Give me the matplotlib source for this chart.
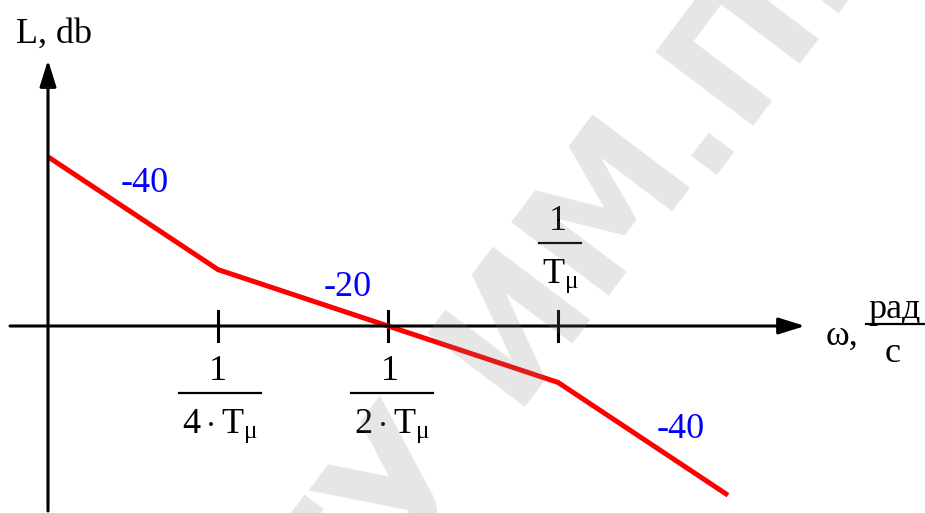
import numpy as np
import matplotlib
matplotlib.use('Agg')
import matplotlib.pyplot as plt

plt.rcParams['mathtext.fontset'] = 'custom'
plt.rcParams['mathtext.rm'] = 'Liberation Serif'
plt.rcParams['mathtext.it'] = 'Liberation Serif'
plt.rcParams['mathtext.bf'] = 'Liberation Serif:bold'
plt.rcParams['font.family'] = 'Liberation Serif'

# asymptotic LAFC, frequency in units of 1/T_mu
omega = [1/8, 1/4, 1/2, 1, 2]
L_db = [18, 6, 0, -6, -18]

corner_omega = [1/4, 1/2, 1]
corner_num = ['1', '1', '1']
corner_den = [r'$4\cdot\mathrm{T}_{\mu}$', r'$2\cdot\mathrm{T}_{\mu}$', r'$\mathrm{T}_{\mu}$']
slope_labels = ['-40', '-20', '-40']

W, H = 925, 513
fig = plt.figure(figsize=(W/100, H/100), dpi=100)
ax = fig.add_axes([0, 0, 1, 1])
ax.set_xscale('log', base=2)

# 170 px per octave, ~9.4 px per dB, origin of the plot at (48, 326) px
oct_px = 170.0
db_px = 9.4
x0, y0 = 48, 326
def px_w(px):
    return 2 ** ((px - x0) / oct_px - 3)
def px_db(py):
    return (y0 - py) / db_px

ax.set_xlim(px_w(0), px_w(W))
ax.set_ylim(px_db(H), px_db(0))
ax.axis('off')

# overlay in pixel units for the lettering
ov = fig.add_axes([0, 0, 1, 1])
ov.set_xlim(0, W)
ov.set_ylim(H, 0)
ov.axis('off')
ov.patch.set_alpha(0)

FS = 26

def frac(xc, ybar, half, num, den):
    ov.plot([xc - half, xc + half], [ybar, ybar], color='k', lw=1.6)
    ov.text(xc - 2, ybar - 13, num, ha='center', va='baseline', fontsize=FS)
    ov.text(xc, ybar + 40, den, ha='center', va='baseline', fontsize=FS)

# axes with arrows
arrow = dict(arrowstyle='-|>,head_length=0.8,head_width=0.25', lw=2.2,
             color='k', mutation_scale=20, shrinkA=0, shrinkB=0)
ax.annotate('', xy=(px_w(805), 0), xytext=(px_w(10), 0), arrowprops=arrow)
ax.annotate('', xy=(omega[0], px_db(60)), xytext=(omega[0], px_db(511)),
            arrowprops=arrow)

# corner frequency ticks
for w in corner_omega:
    ax.plot([w, w], [px_db(311), px_db(341)], color='k', lw=2.2)
frac(220, 393, 41, corner_num[0], corner_den[0])
frac(392, 393, 41, corner_num[1], corner_den[1])
frac(560, 243, 21, corner_num[2], corner_den[2])

# the characteristic
ax.plot(omega, L_db, color='#ff0000', lw=3.6, solid_capstyle='butt')

ov.text(145, 183, slope_labels[0], color='#0000ff', fontsize=FS, ha='center', va='center')
ov.text(348, 287, slope_labels[1], color='#0000ff', fontsize=FS, ha='center', va='center')
ov.text(681, 430, slope_labels[2], color='#0000ff', fontsize=FS, ha='center', va='center')

ov.text(16, 43, 'L, db', fontsize=FS, ha='left', va='baseline')
ov.text(826, 345, 'ω,', fontsize=FS, ha='left', va='baseline')
ov.plot([866, 925], [324, 324], color='k', lw=1.6)
ov.text(868, 318, 'рад', fontsize=FS, ha='left', va='baseline')
ov.text(893, 362, 'с', fontsize=FS, ha='center', va='baseline')

# watermark
wm = dict(fontsize=120, fontweight='bold', family='DejaVu Sans', color='#808080',
          alpha=0.2, rotation=53, rotation_mode='anchor', va='baseline', zorder=10)
fig.text(700/W, 1 - 175/H, 'ГГТУ ИМ', ha='right', **wm)
fig.text(700/W, 1 - 175/H, '.П.О.СУХОГО', ha='left', **wm)

fig.savefig('out.png', dpi=100)
